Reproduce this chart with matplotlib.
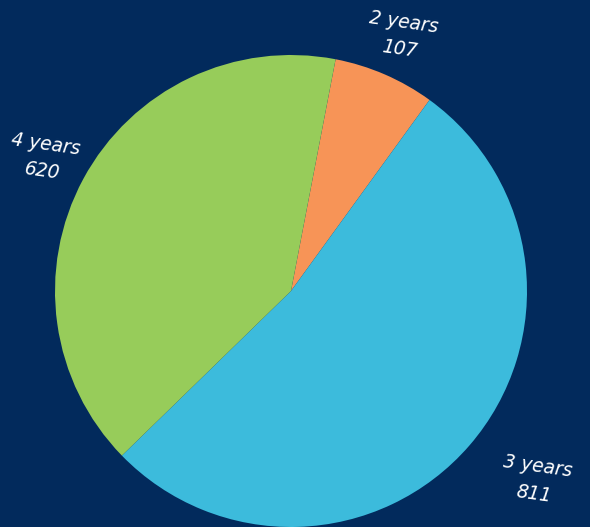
import matplotlib
matplotlib.use("Agg")
import matplotlib.pyplot as plt
import numpy as np

categories = ["2 years", "3 years", "4 years"]
values = [107, 811, 620]
colors = ["#F79457", "#3CBBDC", "#97CC5A"]
label_dist = [1.18, 1.31, 1.19]
label_angle_shift = [0.0, -3.1, 0.0]
bg = "#022A5C"

W, H = 590, 527
fig = plt.figure(figsize=(W / 100, H / 100), dpi=100, facecolor=bg)
ax = fig.add_axes([0, 0, 1, 1])
ax.set_facecolor(bg)

cx, cy, R = 291, 291, 236
total = sum(values)
start_from_top = 10.9  # degrees clockwise from 12 o'clock
wedges, _ = ax.pie(values, colors=colors, startangle=90 - start_from_top,
                   counterclock=False, radius=1.0,
                   wedgeprops=dict(linewidth=0))

cum = start_from_top
for cat, v, d, sh in zip(categories, values, label_dist, label_angle_shift):
    span = v / total * 360
    mid = np.deg2rad(cum + span / 2 + sh)
    x, y = d * np.sin(mid), d * np.cos(mid)
    ax.text(x, y, f"{cat}\n{v}", color="white", fontsize=13.5, style="oblique",
            ha="center", va="center", rotation=-8, linespacing=1.55,
            family="DejaVu Sans")
    cum += span

ax.set_aspect("auto")
ax.set_xlim(-cx / R, (W - cx) / R)
ax.set_ylim(-(H - cy) / R, cy / R)
ax.axis("off")
fig.savefig("out.png", dpi=100, facecolor=bg)
